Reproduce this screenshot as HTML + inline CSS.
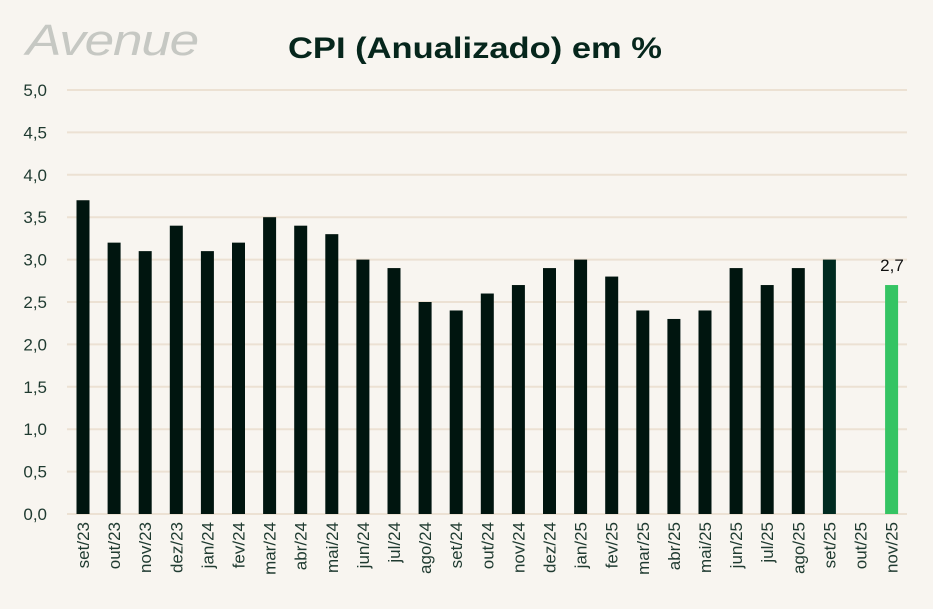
<!DOCTYPE html>
<html><head><meta charset="utf-8"><style>
body{margin:0;background:#f8f5f0}
svg{display:block}
text{font-family:"Liberation Sans",sans-serif}
</style></head><body>
<svg width="933" height="609" viewBox="0 0 933 609">
<rect width="933" height="609" fill="#f8f5f0"/>
<text x="26" y="55" font-size="44" font-style="italic" fill="#c6c8c3" letter-spacing="-1" textLength="172" lengthAdjust="spacingAndGlyphs">Avenue</text>
<text x="475" y="58" font-size="30" font-weight="bold" fill="#06261c" text-anchor="middle" textLength="374" lengthAdjust="spacingAndGlyphs">CPI (Anualizado) em %</text>
<script>
var ns="http://www.w3.org/2000/svg",svg=document.querySelector("svg");
function el(t,a,txt){var e=document.createElementNS(ns,t);for(var k in a)e.setAttribute(k,a[k]);if(txt)e.textContent=txt;svg.appendChild(e);return e;}
var y0=514,u=84.8;
for(var i=0;i<=10;i++){var y=y0-i*u/2;
el("line",{x1:67,x2:907,y1:y,y2:y,stroke:"#ece1d3","stroke-width":2});
el("text",{x:47,y:y+6,"font-size":17,fill:"#1f3a30","text-anchor":"end"},(i/2).toFixed(1).replace(".",","));}
var labs=["set/23","out/23","nov/23","dez/23","jan/24","fev/24","mar/24","abr/24","mai/24","jun/24","jul/24","ago/24","set/24","out/24","nov/24","dez/24","jan/25","fev/25","mar/25","abr/25","mai/25","jun/25","jul/25","ago/25","set/25","out/25","nov/25"];
var v=[3.7,3.2,3.1,3.4,3.1,3.2,3.5,3.4,3.3,3.0,2.9,2.5,2.4,2.6,2.7,2.9,3.0,2.8,2.4,2.3,2.4,2.9,2.7,2.9,3.0,null,2.7];
for(var i=0;i<27;i++){var cx=83+i*31.1;
if(v[i]!=null){var h=v[i]*u;var c=i==26?"#35c463":(i==24?"#002a20":"#00150f");
el("rect",{x:cx-6.5,y:y0-h,width:13,height:h,fill:c});}
el("text",{transform:"translate("+(cx+6)+",522) rotate(-90)","font-size":17,fill:"#1f3a30","text-anchor":"end"},labs[i]);}
el("text",{x:892,y:271,"font-size":17,fill:"#111","text-anchor":"middle"},"2,7");
</script>
</svg>
</body></html>
